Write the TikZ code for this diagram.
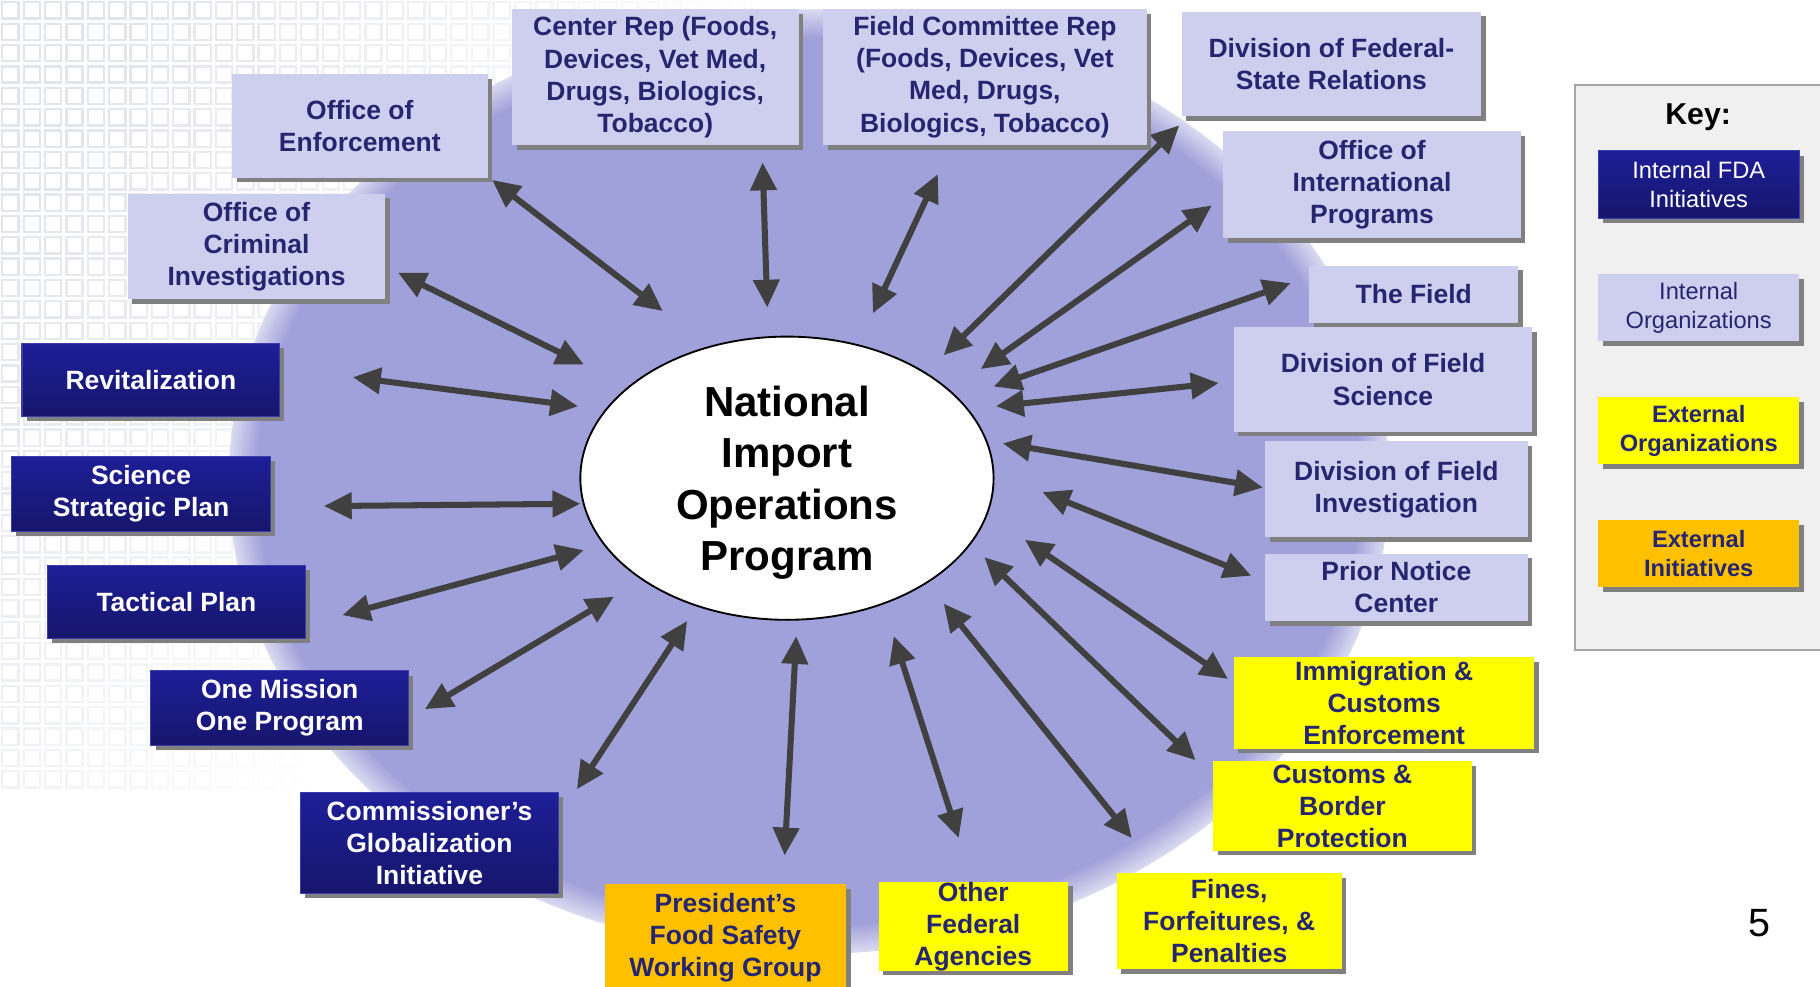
\documentclass[tikz,border=0pt]{standalone}
\usepackage{fontspec}
\setmainfont{Liberation Sans}
\usetikzlibrary{arrows.meta,shadows,shapes.geometric}

\definecolor{diskc}{RGB}{160,160,218}
\definecolor{lavender}{RGB}{206,206,238}
\definecolor{navy}{RGB}{38,38,112}
\definecolor{darktop}{RGB}{30,30,152}
\definecolor{darkbot}{RGB}{22,22,108}
\definecolor{darkedge}{RGB}{60,60,170}
\definecolor{extyellow}{RGB}{255,255,0}
\definecolor{extorange}{RGB}{255,192,0}
\definecolor{arrowc}{RGB}{64,64,64}
\definecolor{keybg}{RGB}{240,240,240}
\definecolor{gridc}{RGB}{208,212,224}

\def\px{0.5pt}

\tikzset{
  box/.style={rectangle, inner sep=0pt, align=center,
    font=\bfseries\fontsize{11.4}{13.8}\selectfont,
    drop shadow={shadow xshift=2pt, shadow yshift=-2pt, fill=black!50, opacity=1}},
  boxsize/.style 2 args={minimum width=#1*\px, minimum height=#2*\px},
  lightbox/.style={box, fill=lavender, text=navy},
  darkbox/.style={box, top color=darktop, bottom color=darkbot, draw=darkedge, line width=0.5pt, text=white},
  yellowbox/.style={box, fill=extyellow, text=navy},
  orangebox/.style={box, fill=extorange, text=navy},
  keyfont/.style={font=\fontsize{10.2}{12.5}\selectfont},
  keybold/.style={font=\bfseries\fontsize{10.2}{12.5}\selectfont},
  hub/.style={ellipse, draw=black, line width=0.8pt, fill=white, inner sep=0pt,
    minimum width=356*\px, minimum height=244*\px, align=center, text depth=0pt,
    font=\bfseries\fontsize{18.1}{22.2}\selectfont},
  link/.style={draw=arrowc, line width=2.6pt, >={Triangle[length=12pt,width=11pt]}, <->},
}

\begin{document}
\begin{tikzpicture}[x=0.5pt, y=-0.5pt]
  \useasboundingbox (0,0) rectangle (1568,850);
  \fill[white] (0,0) rectangle (1568,850);

  % Background squares
  \foreach \i in {0,...,38}{
    \foreach \j in {0,...,36}{
      \pgfmathsetmacro\op{0.6*max(0,min(1,1.2-\i/30-\j/50))}
      \draw[gridc, line width=1pt, opacity=\op] (\i*18.4+2,\j*18.4+2) rectangle ++(14,14);
    }
  }

  % Disk
  \foreach \d in {0,2,...,24}{
    \pgfmathsetmacro\mix{40+60*\d/24}
    \fill[diskc!\mix!white] (697,415) ellipse [x radius=500-\d, y radius=407-\d];
  }

  % Connectors
  \foreach \n/\ax/\ay/\bx/\by in {enf/424/155/571/268, oci/343/235/503/314,
      ctr/657/140/661/265, fcr/808/150/752/270, dfsr/1016/108/813/306,
      oip/1044/177/845/318, fld/1112/244/856/333, dfs/1050/330/858/350,
      dfi/1088/420/864/382, pnc/1078/496/898/424, ice/1058/585/883/465,
      cbp/1030/655/848/480, ffp/975/722/813/520, ofa/826/722/770/548,
      pfs/676/737/686/548, cgi/497/680/592/535, omop/366/611/529/514,
      tac/295/530/503/474, ssp/279/436/500/434, rev/304/325/498/350}{
    \coordinate (\n-o) at (\ax,\ay);
    \coordinate (\n-i) at (\bx,\by);
    \draw[link] (\n-o) -- (\n-i);
  }

  % Hub
  \node[hub] (nipo) at (678,412) {National\\Import\\Operations\\Program};

  % Internal organizations
  \node[lightbox, boxsize={220}{89}] (enf) at (310,108.5) {Office of\\Enforcement};
  \node[lightbox, boxsize={222}{91}] (oci) at (221,212.5) {Office of\\Criminal\\Investigations};
  \node[lightbox, boxsize={247}{117}] (ctr) at (564.5,66.5) {Center Rep (Foods,\\Devices, Vet Med,\\Drugs, Biologics,\\Tobacco)};
  \node[lightbox, boxsize={279}{117}] (fcr) at (848.5,66.5) {Field Committee Rep\\(Foods, Devices, Vet\\Med, Drugs,\\Biologics, Tobacco)};
  \node[lightbox, boxsize={258}{90}] (dfsr) at (1147,55) {Division of Federal-\\State Relations};
  \node[lightbox, boxsize={256}{92}] (oip) at (1182,159) {Office of\\International\\Programs};
  \node[lightbox, boxsize={180}{49}] (fld) at (1218,253.5) {The Field};
  \node[lightbox, boxsize={257}{90}] (dfs) at (1191.5,327) {Division of Field\\Science};
  \node[lightbox, boxsize={226}{83}] (dfi) at (1203,421.5) {Division of Field\\Investigation};
  \node[lightbox, boxsize={226}{58}] (pnc) at (1203,506) {Prior Notice\\Center};

  % External organizations and initiatives
  \node[yellowbox, boxsize={259}{79}] (ice) at (1192.5,605.5) {Immigration \&\\Customs\\Enforcement};
  \node[yellowbox, boxsize={223}{77}] (cbp) at (1156.5,694.5) {Customs \&\\Border\\Protection};
  \node[yellowbox, boxsize={194}{83}] (ffp) at (1059,793.5) {Fines,\\Forfeitures, \&\\Penalties};
  \node[yellowbox, boxsize={163}{76}] (ofa) at (838.5,798) {Other\\Federal\\Agencies};
  \node[orangebox, boxsize={208}{93}] (pfs) at (625,808) {President’s\\Food Safety\\Working Group};

  % Internal FDA initiatives
  \node[darkbox, boxsize={222}{87}] (cgi) at (370,726.5) {Commissioner’s\\Globalization\\Initiative};
  \node[darkbox, boxsize={222}{64}] (omop) at (241,610) {One Mission\\One Program};
  \node[darkbox, boxsize={222}{63}] (tac) at (152,518.5) {Tactical Plan};
  \node[darkbox, boxsize={223}{65}] (ssp) at (121.5,425.5) {Science\\Strategic Plan};
  \node[darkbox, boxsize={222}{63}] (rev) at (130,327.5) {Revitalization};

  % Key
  \node[fill=keybg, draw=black!35, line width=1pt, minimum width=223*\px, minimum height=487*\px] (key) at (1468.5,316.5) {};
  \node[font=\bfseries\fontsize{13}{15}\selectfont] (keyt) at (1463,101) {Key:};
  \node[darkbox, boxsize={173}{58}, keyfont] (k1) at (1463.5,159) {Internal FDA\\Initiatives};
  \node[lightbox, boxsize={173}{58}, keyfont] (k2) at (1463.5,265) {Internal\\Organizations};
  \node[yellowbox, boxsize={173}{58}, keybold] (k3) at (1463.5,371) {External\\Organizations};
  \node[orangebox, boxsize={173}{58}, keybold] (k4) at (1463.5,477) {External\\Initiatives};

  % Page number
  \node[font=\fontsize{17}{20}\selectfont] (pg) at (1516,795) {5};
\end{tikzpicture}
\end{document}
